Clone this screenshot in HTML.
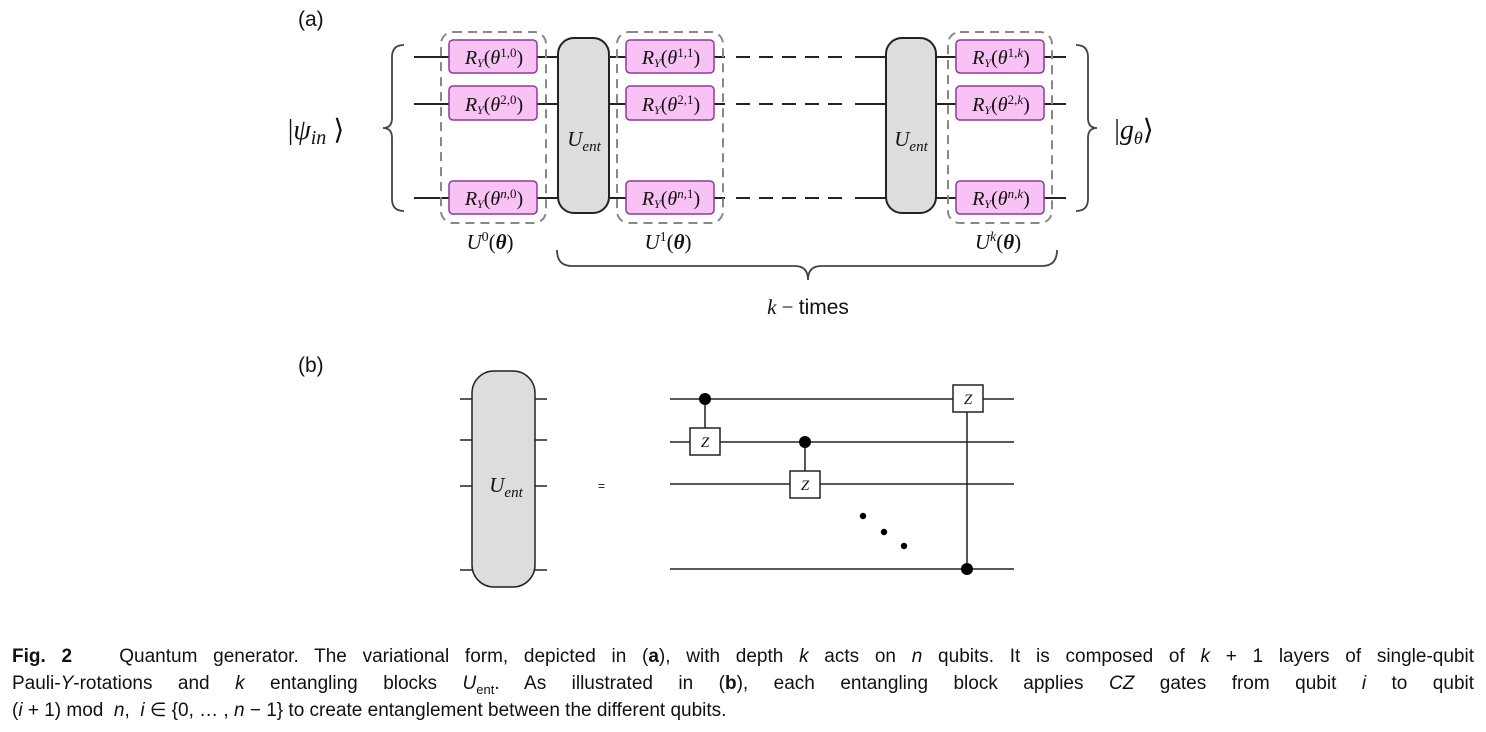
<!DOCTYPE html>
<html><head><meta charset="utf-8"><style>
html,body{margin:0;padding:0;background:#fff;}
body{width:1486px;height:732px;position:relative;overflow:hidden;}
svg{position:absolute;left:0;top:0;}
.cap{position:absolute;left:12px;width:1462px;font-family:"Liberation Sans",sans-serif;font-size:19px;color:#111;line-height:27px;}
.cap div{text-align:justify;text-align-last:justify;white-space:nowrap;height:27px;}
.cap div.l{text-align-last:left;}
.sb{font-size:13px;position:relative;top:5px;line-height:0;}
</style></head><body>
<svg width="1486" height="732" viewBox="0 0 1486 732" font-family="Liberation Serif, serif">
<g fill="none" stroke="#222" stroke-width="2">
<path d="M414 57H725M414 104H725M414 198H725"/>
<path d="M855 57H1066M855 104H1066M855 198H1066"/>
<path d="M736 57H850M736 104H850M736 198H850" stroke-dasharray="14 9"/>
</g>
<g fill="none" stroke="#888" stroke-width="2" stroke-dasharray="9 6">
<rect x="441" y="32" width="105" height="191" rx="12"/>
<rect x="617" y="32" width="106" height="191" rx="12"/>
<rect x="948" y="32" width="104" height="191" rx="12"/>
</g>
<g fill="#ddd" stroke="#222" stroke-width="2">
<rect x="558" y="38" width="51" height="175" rx="16"/>
<rect x="886" y="38" width="50" height="175" rx="16"/>
</g>
<g font-style="italic" font-size="21" text-anchor="middle" fill="#111">
<text x="584" y="146">U<tspan font-size="15" dy="5">ent</tspan></text>
<text x="911" y="146">U<tspan font-size="15" dy="5">ent</tspan></text>
</g>
<g fill="#f9c2f5" stroke="#8a3a99" stroke-width="1.5">
<rect x="449" y="40" width="88" height="33" rx="4"/><rect x="449" y="86" width="88" height="34" rx="4"/><rect x="449" y="181" width="88" height="33" rx="4"/>
<rect x="626" y="40" width="88" height="33" rx="4"/><rect x="626" y="86" width="88" height="34" rx="4"/><rect x="626" y="181" width="88" height="33" rx="4"/>
<rect x="956" y="40" width="88" height="33" rx="4"/><rect x="956" y="86" width="88" height="34" rx="4"/><rect x="956" y="181" width="88" height="33" rx="4"/>
</g>
<g font-size="20" text-anchor="middle" fill="#111">
<text x="494" y="64"><tspan font-style="italic">R<tspan font-size="12" dy="3">Y</tspan></tspan><tspan dy="-3">(</tspan><tspan font-style="italic">θ</tspan><tspan font-size="13" dy="-7">1,0</tspan><tspan dy="7">)</tspan></text>
<text x="494" y="111"><tspan font-style="italic">R<tspan font-size="12" dy="3">Y</tspan></tspan><tspan dy="-3">(</tspan><tspan font-style="italic">θ</tspan><tspan font-size="13" dy="-7">2,0</tspan><tspan dy="7">)</tspan></text>
<text x="494" y="205"><tspan font-style="italic">R<tspan font-size="12" dy="3">Y</tspan></tspan><tspan dy="-3">(</tspan><tspan font-style="italic">θ</tspan><tspan font-size="13" dy="-7" font-style="italic">n</tspan><tspan font-size="13">,0</tspan><tspan dy="7">)</tspan></text>
<text x="671" y="64"><tspan font-style="italic">R<tspan font-size="12" dy="3">Y</tspan></tspan><tspan dy="-3">(</tspan><tspan font-style="italic">θ</tspan><tspan font-size="13" dy="-7">1,1</tspan><tspan dy="7">)</tspan></text>
<text x="671" y="111"><tspan font-style="italic">R<tspan font-size="12" dy="3">Y</tspan></tspan><tspan dy="-3">(</tspan><tspan font-style="italic">θ</tspan><tspan font-size="13" dy="-7">2,1</tspan><tspan dy="7">)</tspan></text>
<text x="671" y="205"><tspan font-style="italic">R<tspan font-size="12" dy="3">Y</tspan></tspan><tspan dy="-3">(</tspan><tspan font-style="italic">θ</tspan><tspan font-size="13" dy="-7" font-style="italic">n</tspan><tspan font-size="13">,1</tspan><tspan dy="7">)</tspan></text>
<text x="1001" y="64"><tspan font-style="italic">R<tspan font-size="12" dy="3">Y</tspan></tspan><tspan dy="-3">(</tspan><tspan font-style="italic">θ</tspan><tspan font-size="13" dy="-7">1,</tspan><tspan font-size="13" font-style="italic">k</tspan><tspan dy="7">)</tspan></text>
<text x="1001" y="111"><tspan font-style="italic">R<tspan font-size="12" dy="3">Y</tspan></tspan><tspan dy="-3">(</tspan><tspan font-style="italic">θ</tspan><tspan font-size="13" dy="-7">2,</tspan><tspan font-size="13" font-style="italic">k</tspan><tspan dy="7">)</tspan></text>
<text x="1001" y="205"><tspan font-style="italic">R<tspan font-size="12" dy="3">Y</tspan></tspan><tspan dy="-3">(</tspan><tspan font-style="italic">θ</tspan><tspan font-size="13" dy="-7" font-style="italic">n</tspan><tspan font-size="13">,</tspan><tspan font-size="13" font-style="italic">k</tspan><tspan dy="7">)</tspan></text>
</g>
<g font-size="21" text-anchor="middle" fill="#111">
<text x="490" y="249"><tspan font-style="italic">U</tspan><tspan font-size="14" dy="-8">0</tspan><tspan dy="8">(</tspan><tspan font-weight="bold" font-style="italic">θ</tspan>)</text>
<text x="668" y="249"><tspan font-style="italic">U</tspan><tspan font-size="14" dy="-8">1</tspan><tspan dy="8">(</tspan><tspan font-weight="bold" font-style="italic">θ</tspan>)</text>
<text x="998" y="249"><tspan font-style="italic">U</tspan><tspan font-size="14" dy="-8" font-style="italic">k</tspan><tspan dy="8">(</tspan><tspan font-weight="bold" font-style="italic">θ</tspan>)</text>
<text x="316" y="139" font-size="28">|<tspan font-style="italic">ψ</tspan><tspan font-size="20" dy="5" font-style="italic">in</tspan><tspan dy="-5"> ⟩</tspan></text>
<text x="1134" y="139" font-size="28">|<tspan font-style="italic">g</tspan><tspan font-size="18" dy="5" font-style="italic">θ</tspan><tspan dy="-5">⟩</tspan></text>
</g>
<g fill="none" stroke="#444" stroke-width="1.8">
<path d="M404 45 Q392 45 392 57 V118 Q392 128 383 128 Q392 128 392 138 V199 Q392 211 404 211"/>
<path d="M1076 45 Q1088 45 1088 57 V118 Q1088 128 1097 128 Q1088 128 1088 138 V199 Q1088 211 1076 211"/>
<path d="M557 250 Q557 266 572 266 H795 Q808 266 808 280 Q808 266 821 266 H1042 Q1057 266 1057 250"/>
</g>
<text x="808" y="314" font-size="21" text-anchor="middle" fill="#111"><tspan font-style="italic">k</tspan> − <tspan font-family="Liberation Sans, sans-serif">times</tspan></text>
<g font-family="Liberation Sans, sans-serif" font-size="21" fill="#111">
<text x="298" y="26">(a)</text>
<text x="298" y="372">(b)</text>
<text x="598" y="490" font-size="12">=</text>
</g>
<g stroke="#222" stroke-width="1.5" fill="none">
<path d="M460 399H547M460 440H547M460 486H547M460 570H547"/>
</g>
<rect x="472" y="371" width="63" height="216" rx="22" fill="#ddd" stroke="#222" stroke-width="1.5"/>
<text x="506" y="492" font-size="21" font-style="italic" text-anchor="middle" fill="#111">U<tspan font-size="15" dy="5">ent</tspan></text>
<g stroke="#222" stroke-width="1.5" fill="none">
<path d="M670 399H1014M670 442H1014M670 484H1014M670 569H1014"/>
<path d="M705 399V428M805 442V471M967 412V569"/>
</g>
<g fill="#fff" stroke="#222" stroke-width="1.5">
<rect x="690" y="428" width="30" height="27"/>
<rect x="790" y="471" width="30" height="27"/>
<rect x="953" y="385" width="30" height="27"/>
</g>
<g fill="#000">
<circle cx="705" cy="399" r="6"/><circle cx="805" cy="442" r="6"/><circle cx="967" cy="569" r="6"/>
<circle cx="863" cy="516" r="3.2"/><circle cx="884" cy="532" r="3.2"/><circle cx="904" cy="546" r="3.2"/>
</g>
<g font-size="15" font-style="italic" text-anchor="middle" fill="#111">
<text x="705" y="447">Z</text><text x="805" y="490">Z</text><text x="968" y="404">Z</text>
</g>
</svg>
<div class="cap" style="top:643px">
<div><b>Fig. 2</b>&nbsp;&nbsp;&nbsp;Quantum generator. The variational form, depicted in (<b>a</b>), with depth <i>k</i> acts on <i>n</i> qubits. It is composed of <i>k</i> + 1 layers of single-qubit</div>
<div>Pauli-<i>Y</i>-rotations and <i>k</i> entangling blocks <i>U</i><span class="sb">ent</span>. As illustrated in (<b>b</b>), each entangling block applies <i>CZ</i> gates from qubit <i>i</i> to qubit</div>
<div class="l">(<i>i</i> + 1) mod&nbsp; <i>n</i>,&nbsp; <i>i</i> ∈ {0, … , <i>n</i> − 1} to create entanglement between the different qubits.</div>
</div>
</body></html>
